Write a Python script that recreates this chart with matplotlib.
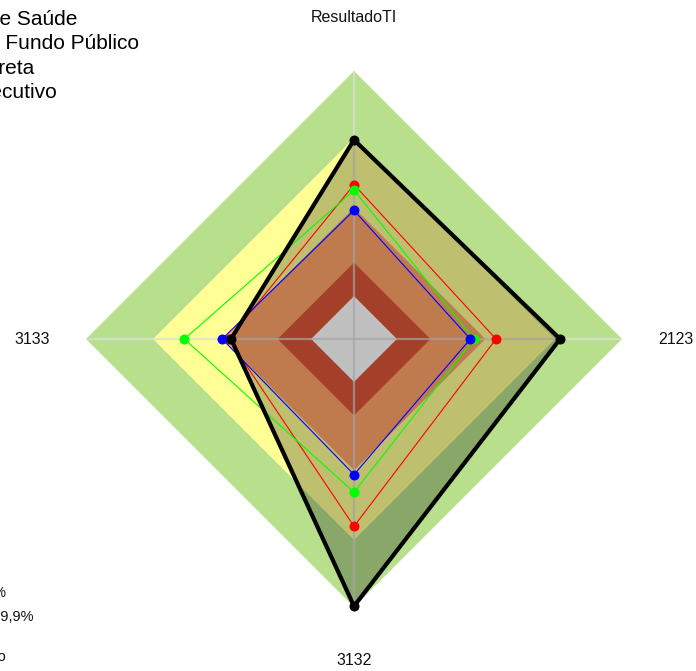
import matplotlib
matplotlib.use("Agg")
import matplotlib.pyplot as plt
from matplotlib.patches import Polygon
import numpy as np

plt.rcParams['font.family'] = ['Liberation Sans', 'DejaVu Sans']

# ---- data -------------------------------------------------------------
axis_labels = ["ResultadoTI", "2123", "3132", "3133"]   # clockwise from top

# performance bands (outer radius, % of scale) and their fills
band_limits = [100, 75, 49, 28.5, 16]
band_colors = ["#B8E08C", "#FFFF96", "#FFA369", "#DC5539", "#FFFFFF"]

series_names = ["Secretaria de Saúde", "Empresa ou Fundo Público",
                "Alocação Direta", "Área do Executivo"]
black_values = [74.3, 76.9, 99.7, 45.9]
red_values = [57.6, 53.0, 69.9, 46.8]
green_values = [55.5, 44.8, 57.2, 63.3]
blue_values = [48.0, 43.4, 50.6, 49.2]

notes = ["Alvo 70%", "Média: 59,9%", "", "Esperado"]

# ---- layout -----------------------------------------------------------
W, H, DPI = 696, 671, 100
CX, CY, RADIUS = 354, 339, 268      # chart centre and outer radius in px

fig = plt.figure(figsize=(W / DPI, H / DPI), dpi=DPI)
ax = fig.add_axes([0, 0, 1, 1])
ax.set_xlim(-CX / RADIUS, (W - CX) / RADIUS)
ax.set_ylim(-(H - CY) / RADIUS, CY / RADIUS)
ax.axis("off")

n = len(axis_labels)
angles = np.pi / 2 - np.arange(n) * 2 * np.pi / n


def to_xy(values, scale=100.0):
    r = np.asarray(values, dtype=float) / scale
    return np.column_stack([r * np.cos(angles), r * np.sin(angles)])


# background bands
for lim, col in zip(band_limits, band_colors):
    ax.add_patch(Polygon(to_xy([lim] * n), closed=True, facecolor=col,
                         edgecolor="none", zorder=1))

# spokes
for a in angles:
    ax.plot([0, np.cos(a)], [0, np.sin(a)], color="#DCDCDC", alpha=0.7,
            lw=1.6, zorder=2, solid_capstyle="butt")

# shaded area of the highlighted series
ax.add_patch(Polygon(to_xy(black_values), closed=True, facecolor="black",
                     alpha=0.25, edgecolor="none", zorder=3))

styles = [(black_values, "#000000", 3.0, 7),
          (red_values, "#FF0000", 0.8, 4),
          (green_values, "#00FF00", 0.8, 5),
          (blue_values, "#0000FF", 0.8, 6)]
handles = []
for vals, col, lw, z in styles:
    pts = to_xy(vals)
    pts = np.vstack([pts, pts[:1]])
    ln, = ax.plot(pts[:, 0], pts[:, 1], color=col, lw=lw, zorder=z,
                  marker="o", markersize=7.2, markeredgewidth=0,
                  markevery=list(range(n)), solid_joinstyle="miter")
    handles.append(ln)

# axis labels
for lab, a in zip(axis_labels, angles):
    ax.text(1.2 * np.cos(a), 1.2 * np.sin(a), lab, ha="center", va="center",
            fontsize=11.5, color="#111111", zorder=8)

# legend (upper left)
fig.legend(handles, series_names, loc="upper left",
           bbox_to_anchor=(-171 / W, 1 - 10 / H), frameon=False,
           fontsize=15, borderpad=0, borderaxespad=0, handlelength=2,
           handletextpad=0.8, labelspacing=0.26)

# notes (lower left)
for txt, y in zip(notes, [593, 617, 637, 657]):
    if txt:
        fig.text(-56 / W, 1 - y / H, txt, ha="left", va="center",
                 fontsize=10.5, color="#111111")

fig.savefig("out.png", dpi=DPI)
